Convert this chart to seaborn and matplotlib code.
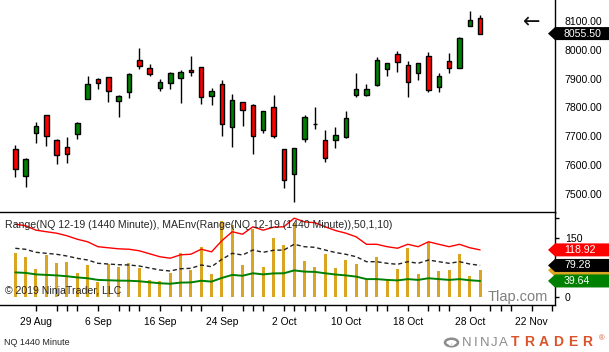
import matplotlib
matplotlib.use("Agg")
import matplotlib.pyplot as plt
from matplotlib.patches import Polygon, Circle, Wedge
import numpy as np
import pandas as pd
import seaborn as sns

# NQ 12-19 daily bars, 27 Aug - 29 Oct 2019
dates = pd.bdate_range("2019-08-27", "2019-10-29")
opens = [7655, 7563, 7711, 7773, 7686, 7663, 7707, 7830, 7898, 7904,
         7821, 7852, 7963, 7935, 7866, 7883, 7903, 7928, 7939, 7839,
         7880, 7731, 7818, 7809, 7723, 7800, 7655, 7569, 7690, 7742,
         7686, 7686, 7697, 7844, 7844, 7879, 7932, 7984, 7946, 7918,
         7977, 7870, 7960, 7935, 8081, 8108]
highs = [7669, 7624, 7749, 7773, 7690, 7698, 7750, 7909, 7901, 7904,
         7843, 7919, 8006, 7949, 7898, 7924, 7928, 7978, 7940, 7867,
         7895, 7847, 7818, 7812, 7787, 7843, 7655, 7659, 7773, 7802,
         7722, 7733, 7788, 7920, 7881, 7975, 7953, 7995, 7961, 7953,
         7992, 7919, 7988, 8043, 8134, 8120]
lows = [7559, 7524, 7678, 7668, 7604, 7609, 7690, 7828, 7863, 7820,
        7768, 7834, 7934, 7908, 7858, 7865, 7817, 7910, 7813, 7810,
        7703, 7665, 7737, 7640, 7713, 7693, 7523, 7472, 7682, 7727,
        7613, 7661, 7694, 7837, 7839, 7875, 7910, 7924, 7837, 7895,
        7854, 7855, 7920, 7935, 8081, 8053]
closes = [7586, 7621, 7735, 7700, 7635, 7638, 7745, 7880, 7883, 7856,
          7839, 7916, 7945, 7916, 7887, 7919, 7922, 7922, 7835, 7857,
          7742, 7825, 7790, 7700, 7787, 7700, 7548, 7659, 7766, 7742,
          7624, 7704, 7762, 7863, 7863, 7963, 7953, 7956, 7887, 7953,
          7859, 7908, 7935, 8039, 8101, 8055.5]

# MAEnv middle line (moving average of the range), envelope +/- 50 %
env_mid = [123.0, 120.4, 112.8, 110.2, 107.7, 103.3, 97.4, 93.1, 84.7, 82.9,
           81.1, 80.4, 77.8, 72.7, 67.6, 65.1, 70.9, 71.9, 80.4, 76.0,
           94.9, 110.2, 105.9, 118.6, 112.8, 117.9, 118.6, 133.2, 127.0, 125.5,
           118.6, 112.2, 107.7, 101.5, 88.8, 88.8, 84.7, 82.1, 88.8, 84.7,
           93.1, 88.8, 84.7, 88.8, 82.9, 79.28]
env_pct = 0.5

price_ticks = [7500, 7600, 7700, 7800, 7900, 8000, 8100]
ind_ticks = [0, 150, 200]
ind_tick_labels = ["0", "150", ""]
x_labels = ["29 Aug", "6 Sep", "16 Sep", "24 Sep", "2 Oct", "10 Oct",
            "18 Oct", "28 Oct", "22 Nov"]
x_label_pos = [2, 8, 14, 20, 26, 32, 38, 44, 50]
x_minor_pos = [4, 5, 6, 10, 11, 12, 16, 17, 18, 22, 23, 24, 27, 28, 29, 30,
               34, 35, 36, 40, 41, 42, 46, 47, 48, 52]

sns.set_theme(style="white")
plt.rcParams["font.family"] = ["Liberation Sans", "DejaVu Sans"]

W, H = 609, 352


def fx(px):
    return px / W


def fy(py):
    return 1 - py / H


idx = np.arange(len(dates))
o = np.array(opens)
c = np.array(closes)
hi = np.array(highs)
lo = np.array(lows)
rng = hi - lo
mid = np.array(env_mid)
upper = mid * (1 + env_pct)
lower = mid * (1 - env_pct)

fig = plt.figure(figsize=(W / 100, H / 100), dpi=100)
ax = fig.add_axes([0, fy(212.5), fx(555), fy(0) - fy(212.5)])
ax2 = fig.add_axes([0, fy(304.7), fx(555), fy(212.5) - fy(304.7)])

XLIM = (-1.48, 52.25)

# price panel: candlesticks
colors = ["#ff0000" if cc < oo else "#008000" for oo, cc in zip(o, c)]
ax.vlines(idx, lo, hi, color="black", linewidth=1, zorder=1)
ax.bar(idx, np.abs(c - o), bottom=np.minimum(o, c), width=0.44,
       color=colors, edgecolor="black", linewidth=1, zorder=2)
ax.set_xlim(XLIM)
ax.set_ylim(7437, 8171.6)
ax.set_xticks([])
ax.yaxis.tick_right()
ax.set_yticks(price_ticks, [f"{v:.2f}" for v in price_ticks])
ax.tick_params(axis="y", length=0, pad=6.5, labelsize=7.6, colors="black")
for s in ["top", "left", "bottom"]:
    ax.spines[s].set_visible(False)
ax.spines["right"].set_color("black")
ax.spines["right"].set_linewidth(1)

# indicator panel: range bars + envelope
sns.barplot(x=idx, y=rng, native_scale=True, orient="x", color="#DAA520",
            saturation=1, width=0.3, errorbar=None, linewidth=0, ax=ax2)
sns.lineplot(x=idx, y=upper, color="#ff0000", linewidth=1, ax=ax2)
sns.lineplot(x=idx, y=mid, color="#222222", linewidth=1,
             linestyle=(0, (3, 2)), ax=ax2)
sns.lineplot(x=idx, y=lower, color="#008000", linewidth=1.4, ax=ax2)
ax2.set_xlim(XLIM)
ax2.set_ylim(-20.9, 214.3)
ax2.set_xlabel("")
ax2.set_ylabel("")
ax2.set_xticks(x_label_pos, x_labels)
ax2.set_xticks(x_minor_pos, minor=True)
ax2.tick_params(axis="x", which="both", direction="out", length=4.3,
                width=1, color="black", bottom=True)
ax2.tick_params(axis="x", labelsize=7.4, pad=4.5, colors="black")
ax2.yaxis.tick_right()
ax2.set_yticks(ind_ticks, ind_tick_labels)
ax2.tick_params(axis="y", direction="out", length=3, width=1, pad=4,
                labelsize=7.6, colors="black", right=True)
ax2.spines["left"].set_visible(False)
for s in ["top", "right", "bottom"]:
    ax2.spines[s].set_color("black")
    ax2.spines[s].set_linewidth(1)

ax2.text(487.7 / 555, 0.035, "Tlap.com", transform=ax2.transAxes,
         fontsize=10.5, color="#808080", ha="left", va="baseline",
         clip_on=True)


def flag(axis, value, color, text=None, z=10):
    yd = fig.transFigure.inverted().transform(
        axis.transData.transform((0, value)))[1]
    h = 6.5 / H
    pts = [(fx(548), yd), (fx(555), yd + h), (fx(609), yd + h),
           (fx(609), yd - h), (fx(555), yd - h)]
    fig.add_artist(Polygon(pts, closed=True, facecolor=color,
                           edgecolor="none", transform=fig.transFigure,
                           zorder=z))
    if text:
        fig.text(fx(564), yd, text, color="white", fontsize=7.6,
                 ha="left", va="center", zorder=z + 1)


flag(ax, c[-1], "black", f"{c[-1]:.2f}")
flag(ax2, rng[-1], "#DAA520", None, z=10)
flag(ax2, upper[-1], "#ff0000", f"{upper[-1]:.2f}", z=12)
flag(ax2, mid[-1], "black", f"{mid[-1]:.2f}", z=14)
flag(ax2, lower[-1], "#008000", f"{lower[-1]:.2f}", z=16)

fig.text(fx(532), fy(22), "\u2190", fontsize=15, ha="center", va="center",
         family="DejaVu Sans", color="#111111")

fig.text(fx(5), fy(225),
         "Range(NQ 12-19 (1440 Minute)), MAEnv(Range(NQ 12-19 (1440 Minute)),50,1,10)",
         fontsize=7.6, ha="left", va="center", zorder=5)
fig.text(fx(5), fy(291), "\u00a9 2019 NinjaTrader, LLC", fontsize=7.6,
         ha="left", va="center", zorder=5)
fig.text(fx(4), fy(342.5), "NQ 1440 Minute", fontsize=6.5, ha="left",
         va="center")

# NinjaTrader logo
fig.add_artist(Circle((fx(451.5), fy(342.5)), 6.5 / W, transform=fig.transFigure,
                      facecolor="none", edgecolor="#8c8c8c", linewidth=1.8))
fig.add_artist(Wedge((fx(451.5), fy(342.5)), 4.5 / W, 240, 300,
                     transform=fig.transFigure, facecolor="#d9532b"))
for k, ch in enumerate("NINJA"):
    fig.text(fx(466.3 + k * 9.2), fy(342.5), ch, fontsize=9.5,
             color="#8c8c8c", ha="center", va="center")
for k, ch in enumerate("TRADER"):
    fig.text(fx(514.9 + k * 14.4), fy(342.5), ch, fontsize=10,
             fontweight="bold", color="#d9532b", ha="center", va="center")
fig.text(fx(601.5), fy(339), "\u00ae", fontsize=5.5, color="#d9532b",
         ha="center", va="center")

fig.savefig("out.png", dpi=100)
